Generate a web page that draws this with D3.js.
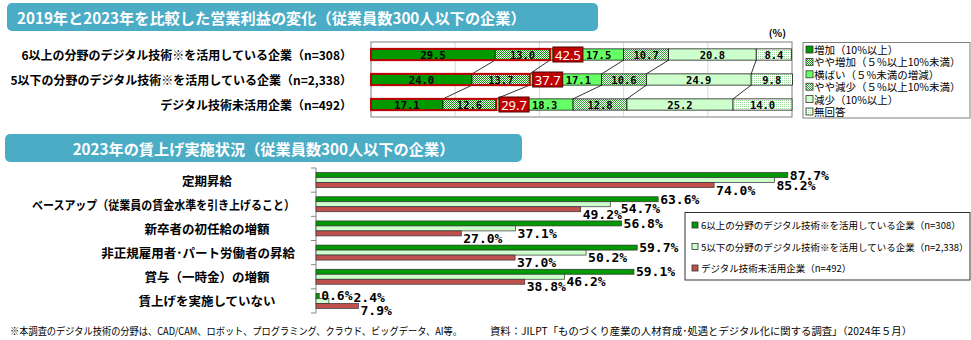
<!DOCTYPE html>
<html>
<head>
<meta charset="utf-8">
<script src="https://cdn.jsdelivr.net/npm/d3@7"></script>
<style>
body{margin:0;background:#fff;}
svg{display:block;font-family:"Noto Sans CJK JP","Noto Sans",sans-serif;}
</style>
</head>
<body>
<svg id="chart" width="971" height="340"></svg>
<script>
// ---- top chart: change of operating profit ----
var profitGroups = ['6以上の分野のデジタル技術※を活用している企業（n=308）',
	'5以下の分野のデジタル技術※を活用している企業（n=2,338）',
	'デジタル技術未活用企業（n=492）'];
var profitKeys = ['増加（10%以上）','やや増加（５%以上10%未満）','横ばい（５%未満の増減）',
	'やや減少（５%以上10%未満）','減少（10%以上）','無回答'];
var profitRow1 = [29.5,13.0,17.5,10.7,20.8,8.4];
var profitRow2 = [24.0,13.7,17.1,10.6,24.9,9.8];
var profitRow3 = [17.1,12.6,18.3,12.8,25.2,14.0];
var profitTicks = [20,40,60,80];

// ---- bottom chart: wage increases in 2023 ----
var wageCats = ['定期昇給','ベースアップ（従業員の賃金水準を引き上げること）','新卒者の初任給の増額',
	'非正規雇用者･パート労働者の昇給','賞与（一時金）の増額','賃上げを実施していない'];
var wageSeries = ['6以上の分野のデジタル技術※を活用している企業（n=308）',
	'5以下の分野のデジタル技術※を活用している企業（n=2,338）',
	'デジタル技術未活用企業（n=492）'];
var wage6plus = [87.7,63.6,56.8,59.7,59.1,0.6];
var wage5less = [85.2,54.7,37.1,50.2,46.2,2.4];
var wageNone = [74.0,49.2,27.0,37.0,38.8,7.9];

var svg = d3.select('#chart');
var defs = svg.append('defs');

function dither(id, col, dots){
	var p = defs.append('pattern').attr('id',id).attr('width',2).attr('height',2)
		.attr('patternUnits','userSpaceOnUse');
	p.append('rect').attr('width',2).attr('height',2).attr('fill','#fff');
	dots.forEach(d => p.append('rect').attr('x',d[0]).attr('y',d[1]).attr('width',1).attr('height',1).attr('fill',col));
}
dither('pUp', '#009900', [[0,0],[1,1]]);
dither('pDown', '#33aa33', [[0,0],[1,1]]);
dither('pNone', '#99dd99', [[0,0]]);

var profitColors = ['#009900','url(#pUp)','#66ff66','url(#pDown)','#ccffcc','url(#pNone)'];
var wageColors = ['#009900','#ccffcc','#c0504d'];

// banners
function banner(x, y, w, h, txt, center){
	svg.append('rect').attr('x',x).attr('y',y).attr('width',w).attr('height',h)
		.attr('rx',5).attr('fill','#4bacc6');
	svg.append('text').attr('x',center ? x + w/2 : x + 10).attr('y',y + h/2)
		.attr('text-anchor',center ? 'middle' : 'start')
		.attr('dominant-baseline','central')
		.attr('fill','#fff').style('font-size','15.2px').style('font-weight','bold')
		.text(txt);
}
banner(7,3,591,28,'2019年と2023年を比較した営業利益の変化（従業員数300人以下の企業）',false);
banner(5,134,517,28,'2023年の賃上げ実施状況（従業員数300人以下の企業）',true);

// ===== top stacked chart =====
var rows = [profitRow1, profitRow2, profitRow3];
var px = d3.scaleLinear().domain([0,100]).range([371,792]);
var py = d3.scaleBand().domain(d3.range(3)).range([42,117]).paddingInner(0.55).paddingOuter(0.275);
var bh = py.bandwidth();

var topG = svg.append('g');
topG.selectAll('.grid').data(profitTicks).enter().append('line')
	.attr('x1',d => px(d)).attr('x2',d => px(d)).attr('y1',42).attr('y2',117)
	.attr('stroke','#d9d9d9');
topG.append('rect').attr('x',px(0)).attr('y',42).attr('width',px(100)-px(0)).attr('height',75)
	.attr('fill','none').attr('stroke','#7f7f7f');

var cums = rows.map(r => { var c = [0]; r.forEach(v => c.push(c[c.length-1] + v)); return c; });

// series lines
for (var r = 0; r < 2; r++){
	for (var k = 1; k <= 5; k++){
		topG.append('line')
			.attr('x1',px(cums[r][k])).attr('y1',py(r) + bh)
			.attr('x2',px(cums[r+1][k])).attr('y2',py(r+1))
			.attr('stroke','#000').attr('stroke-width',0.8);
	}
}

rows.forEach((row, r) => {
	var c = cums[r];
	var g = topG.append('g');
	g.selectAll('rect').data(row).enter().append('rect')
		.attr('x',(d,i) => px(c[i]))
		.attr('y',py(r))
		.attr('width',(d,i) => px(c[i+1]) - px(c[i]))
		.attr('height',bh)
		.attr('fill',(d,i) => profitColors[i])
		.attr('stroke','#000').attr('stroke-width',0.7);
	// outline round the two "increase" parts
	g.append('rect').attr('x',px(0)).attr('y',py(r))
		.attr('width',px(c[2]) - px(0)).attr('height',bh)
		.attr('fill','none').attr('stroke','#c00000').attr('stroke-width',2);
	// total box
	var bx = px(c[2]) + 3;
	g.append('rect').attr('x',bx).attr('y',py(r) + bh/2 - 7.5).attr('width',30).attr('height',15)
		.attr('fill','#c00000').attr('stroke','#500000').attr('stroke-width',1);
	g.append('text').attr('x',bx + 15).attr('y',py(r) + bh/2 + 0.5)
		.attr('text-anchor','middle').attr('dominant-baseline','central')
		.attr('fill','#fff').style('font-size','13px').style('font-family','"Noto Sans",sans-serif')
		.text((c[2]).toFixed(1));
	// segment labels
	g.selectAll('.lbl').data(row).enter().append('text')
		.attr('x',(d,i) => i == 2 ? bx + 33 : (px(c[i]) + px(c[i+1]))/2)
		.attr('y',py(r) + bh/2 + 0.5)
		.attr('text-anchor',(d,i) => i == 2 ? 'start' : 'middle')
		.attr('dominant-baseline','central')
		.style('font-family','"DejaVu Sans Mono",monospace').style('font-weight','bold')
		.style('font-size','10.5px')
		.text(d => d.toFixed(1));
});

topG.selectAll('.cat').data(profitGroups).enter().append('text')
	.attr('x',352).attr('y',(d,i) => py(i) + bh/2)
	.attr('text-anchor','end').attr('dominant-baseline','central')
	.style('font-size','12px').style('font-weight','bold')
	.text(d => d);

topG.append('text').attr('x',786).attr('y',37).attr('text-anchor','end')
	.style('font-size','10px').style('font-weight','bold').text('(%)');

// top legend
var lg = svg.append('g');
lg.append('rect').attr('x',803).attr('y',42.5).attr('width',167).attr('height',75.5)
	.attr('fill','#fff').attr('stroke','#7f7f7f');
profitKeys.forEach((k, i) => {
	var yy = 49.5 + i * 12.4;
	lg.append('rect').attr('x',806).attr('y',yy - 3.5).attr('width',7).attr('height',7)
		.attr('fill',profitColors[i]).attr('stroke','#333').attr('stroke-width',0.8);
	lg.append('text').attr('x',814).attr('y',yy).attr('dominant-baseline','central')
		.style('font-size','10.5px').text(k);
});

// ===== bottom grouped bars =====
var wx = d3.scaleLinear().domain([0,100]).range([316,854]);
var wy = d3.scaleBand().domain(wageCats).range([168,313]).paddingInner(0.38).paddingOuter(0.19);
var ws = d3.scaleBand().domain(d3.range(3)).range([0,wy.bandwidth()]);
var wageData = [wage6plus, wage5less, wageNone];

var bot = svg.append('g');
var step = wy.step();
var y0 = 168;
bot.append('line').attr('x1',wx(0)).attr('x2',wx(0)).attr('y1',y0).attr('y2',313)
	.attr('stroke','#868686');
bot.selectAll('.tick').data(d3.range(wageCats.length + 1)).enter().append('line')
	.attr('x1',wx(0) - 5).attr('x2',wx(0))
	.attr('y1',d => y0 + d * step).attr('y2',d => y0 + d * step)
	.attr('stroke','#868686');

wageData.forEach((vals, s) => {
	bot.append('g').selectAll('rect').data(vals).enter().append('rect')
		.attr('x',wx(0))
		.attr('y',(d,i) => wy(wageCats[i]) + ws(s))
		.attr('width',d => wx(d) - wx(0))
		.attr('height',ws.bandwidth())
		.attr('fill',wageColors[s]).attr('stroke','#333').attr('stroke-width',0.7);
});

// value labels (placed so they do not collide)
var LW = 7.83; // char width of the label font
function lab(x, y, txt){ return {x: x, y: y, x2: x + txt.length * LW, t: txt}; }
function hits(a, b){ return a.x < b.x2 - 1 && b.x < a.x2 - 1 && Math.abs(a.y - b.y) < 9; }
wageCats.forEach((c, i) => {
	var cy = s => wy(c) + ws(s) + ws.bandwidth()/2;
	var txt = wageData.map(v => v[i].toFixed(1) + '%');
	var gL = lab(wx(wage6plus[i]) + 2, cy(0), txt[0]);
	var rL = lab(wx(wageNone[i]) + 2, cy(2) + 5, txt[2]);
	var ideal = lab(wx(wage5less[i]) + 2, cy(1) + 5, txt[1]);
	var cands = [ideal, lab(rL.x2 - 1, cy(1) + 4, txt[1]), lab(gL.x2 + 1, gL.y + 2, txt[1])]
		.filter(l => !hits(l, gL) && !hits(l, rL));
	cands.sort((a, b) => Math.hypot(a.x - ideal.x, a.y - ideal.y) - Math.hypot(b.x - ideal.x, b.y - ideal.y));
	var lL = cands.length ? cands[0] : ideal;
	[gL, lL, rL].forEach(l => {
		bot.append('text').attr('x',l.x).attr('y',l.y)
			.attr('dominant-baseline','central')
			.style('font-family','"DejaVu Sans Mono",monospace').style('font-weight','bold')
			.style('font-size','13px')
			.text(l.t);
	});
});

// category labels
bot.selectAll('.wcat').data(wageCats).enter().append('text')
	.attr('y',d => wy(d) + wy.bandwidth()/2)
	.attr('dominant-baseline','central')
	.style('font-size','12.5px').style('font-weight','bold')
	.text(d => d)
	.each(function(){
		var w = this.getComputedTextLength();
		var sel = d3.select(this);
		if (w > 263) { sel.attr('textLength',263).attr('lengthAdjust','spacingAndGlyphs'); w = 263; }
		sel.attr('x',Math.min(207, 295 - w/2)).attr('text-anchor','middle');
	});

// bottom legend
var lg2 = svg.append('g');
lg2.append('rect').attr('x',685).attr('y',212.5).attr('width',285).attr('height',67.5)
	.attr('fill','#fff').attr('stroke','#333');
wageSeries.forEach((k, i) => {
	var yy = 225 + i * 21.5;
	lg2.append('rect').attr('x',692).attr('y',yy - 3).attr('width',6).attr('height',6)
		.attr('fill',wageColors[i]).attr('stroke','#333').attr('stroke-width',0.8);
	lg2.append('text').attr('x',701).attr('y',yy).attr('dominant-baseline','central')
		.style('font-size','9.5px').text(k);
});

// footnotes
svg.append('text').attr('x',10).attr('y',330).attr('dominant-baseline','central')
	.style('font-size','10px').attr('textLength',452).attr('lengthAdjust','spacingAndGlyphs')
	.text('※本調査のデジタル技術の分野は、CAD/CAM、ロボット、プログラミング、クラウド、ビッグデータ、AI等。');
svg.append('text').attr('x',490).attr('y',330).attr('dominant-baseline','central')
	.style('font-size','10px').attr('textLength',422).attr('lengthAdjust','spacingAndGlyphs')
	.text('資料：JILPT「ものづくり産業の人材育成･処遇とデジタル化に関する調査」（2024年５月）');
</script>
</body>
</html>
